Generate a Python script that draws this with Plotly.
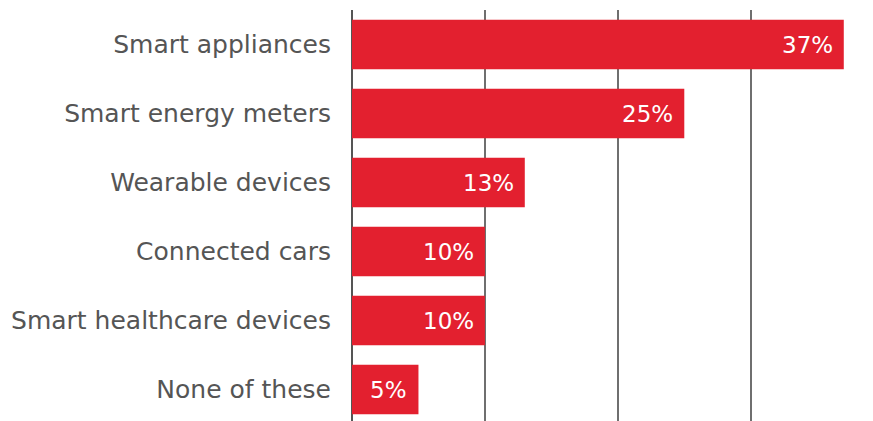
import plotly.graph_objects as go

categories = ["Smart appliances", "Smart energy meters", "Wearable devices",
              "Connected cars", "Smart healthcare devices", "None of these"]
values = [37, 25, 13, 10, 10, 5]
labels = [f"{v}%" for v in values]

BAR = "#E3202F"
FONT = "DejaVu Sans"

fig = go.Figure()
fig.add_trace(go.Bar(
    x=values, y=categories, orientation="h",
    marker=dict(color=BAR, line=dict(width=0)),
    width=0.72, hoverinfo="skip",
))

for c, v, t in zip(categories, values, labels):
    fig.add_annotation(x=v, y=c, text=t, showarrow=False, xanchor="right",
                       xshift=-9, font=dict(color="white", size=23, family=FONT))

fig.update_layout(
    width=873, height=421,
    margin=dict(l=344, r=0, t=2, b=0),
    paper_bgcolor="white", plot_bgcolor="white",
    showlegend=False,
    font=dict(family=FONT, color="#555555"),
)
fig.update_xaxes(range=[0, 39.8], tickvals=[0, 10, 20, 30], showticklabels=False,
                 showgrid=True, gridcolor="#6f6f6f", gridwidth=1.5,
                 zeroline=True, zerolinecolor="#555555", zerolinewidth=2)
fig.update_yaxes(categoryorder="array", categoryarray=categories,
                 range=[5.572, -0.5], showgrid=False, ticks="",
                 tickfont=dict(size=25, color="#555555", family=FONT),
                 ticklabelstandoff=20)

fig.write_html("out.html")
